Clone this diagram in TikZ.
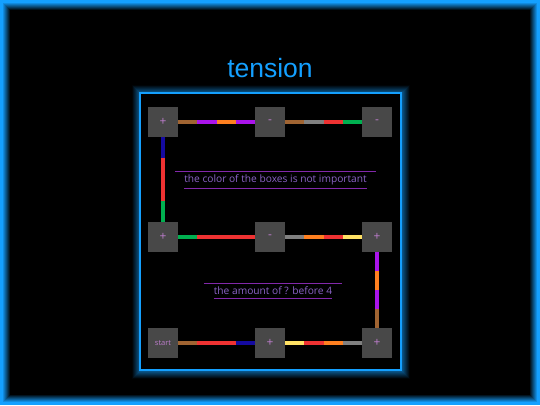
\documentclass[tikz,border=0pt]{standalone}
\usepackage{fontspec}
\setmainfont{Open Sans}
\newfontfamily\titlefont{Liberation Sans}
\usetikzlibrary{positioning, calc}

\definecolor{glowblue}{RGB}{20,160,255}
\definecolor{boxgray}{RGB}{72,72,72}
\definecolor{boxlabel}{RGB}{190,125,205}
\definecolor{notetext}{RGB}{140,100,200}
\definecolor{noteline}{RGB}{130,40,170}
\definecolor{cbrown}{RGB}{160,100,50}
\definecolor{cpurple}{RGB}{170,20,235}
\definecolor{corange}{RGB}{255,128,32}
\definecolor{cgray}{RGB}{128,128,128}
\definecolor{cred}{RGB}{238,50,50}
\definecolor{cgreen}{RGB}{0,176,80}
\definecolor{cblue}{RGB}{20,10,160}
\definecolor{cyellow}{RGB}{255,225,100}

\begin{document}
\begin{tikzpicture}[
  x=1pt, y=-1pt,
  box/.style={rectangle, fill=boxgray, minimum size=30pt, inner sep=0pt, text=boxlabel, font=\fontsize{12}{13}\selectfont},
  note/.style={text=notetext, inner sep=0pt, font=\fontsize{10.2}{12}\selectfont},
  noterule/.style={noteline, line width=1.2pt},
  wire/.style={line width=4.5pt}
]

% background and frame
\useasboundingbox (0,0) rectangle (540,405);
\fill[black] (0,0) rectangle (540,405);
\foreach \i [evaluate=\i as \op using {min(1,1.25-\i/8)}] in {0,...,9}
  \draw[glowblue, line width=1pt, opacity=\op] (\i+0.5,\i+0.5) rectangle (539.5-\i,404.5-\i);

% panel
\foreach \i [evaluate=\i as \op using {0.6-\i/14}] in {1,...,8}
  \draw[glowblue, line width=1pt, opacity=\op] (140-\i,93-\i) rectangle (401+\i,370+\i);
\draw[glowblue, line width=2pt, fill=black] (140,93) rectangle (401,370);

\node[text=glowblue, anchor=base, font=\titlefont\fontsize{26.5}{30}\selectfont] (title) at (270,77) {tension};

% boxes
\node[box] (b11) at (163,122) {+};
\node[box, right of=b11, node distance=107pt] (b12) {-};
\node[box, right of=b12, node distance=107pt] (b13) {-};
\node[box, below of=b11, node distance=115pt] (b21) {+};
\node[box, right of=b21, node distance=107pt] (b22) {-};
\node[box, right of=b22, node distance=107pt] (b23) {+};
\node[box, below of=b21, node distance=106pt, font=\fontsize{7.5}{9}\selectfont] (b31) {start};
\node[box, right of=b31, node distance=107pt] (b32) {+};
\node[box, right of=b32, node distance=107pt] (b33) {+};

% connectors
\foreach \from/\to/\cols in {
  b11.east/b12.west/{cbrown,cpurple,corange,cpurple},
  b12.east/b13.west/{cbrown,cgray,cred,cgreen},
  b11.south/b21.north/{cblue,cred,cred,cgreen},
  b21.east/b22.west/{cgreen,cred,cred,cred},
  b22.east/b23.west/{cgray,corange,cred,cyellow},
  b23.south/b33.north/{cpurple,corange,cpurple,cbrown},
  b31.east/b32.west/{cbrown,cred,cred,cblue},
  b32.east/b33.west/{cyellow,cred,corange,cgray}}
  \foreach \c [count=\k] in \cols {
    \pgfmathsetmacro\p{(\k-1)/4}
    \pgfmathsetmacro\q{\k/4}
    \draw[wire, \c] ($(\from)!\p!(\to)$) -- ($(\from)!\q!(\to)$);
  }

% notes
\node[note] (note1) at (275.5,180) {the color of the boxes is not important};
\draw[noterule] ([shift={(-9pt,3pt)}]note1.north west) -- ([shift={(9pt,3pt)}]note1.north east);
\draw[noterule] ([yshift=-3pt]note1.south west) -- ([yshift=-3pt]note1.south east);

\node[note] (note2) at (273,291) {the amount of ? before 4};
\draw[noterule] ([shift={(-10pt,3pt)}]note2.north west) -- ([shift={(10pt,3pt)}]note2.north east);
\draw[noterule] ([yshift=-3pt]note2.south west) -- ([yshift=-3pt]note2.south east);

\end{tikzpicture}
\end{document}
